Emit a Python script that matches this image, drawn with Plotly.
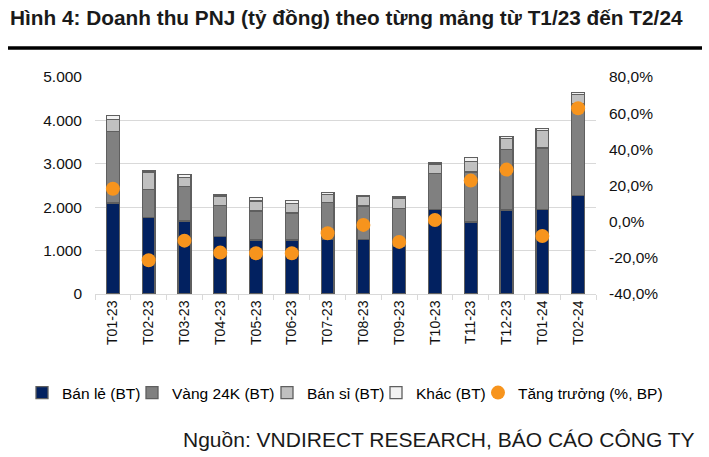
import plotly.graph_objects as go

categories = ["T01-23", "T02-23", "T03-23", "T04-23", "T05-23", "T06-23", "T07-23",
              "T08-23", "T09-23", "T10-23", "T11-23", "T12-23", "T01-24", "T02-24"]
ban_le = [2100, 1760, 1680, 1330, 1245, 1245, 1270, 1260, 1100, 1950, 1657, 1935, 1950, 2275]
vang_24k = [1650, 650, 800, 707, 667, 621, 836, 768, 875, 823, 1154, 1392, 1413, 2107]
ban_si = [275, 385, 210, 221, 231, 217, 191, 216, 223, 207, 240, 254, 408, 220]
khac = [90, 40, 60, 39, 78, 76, 39, 30, 37, 38, 93, 53, 40, 48]
tang_truong = [0.182, -0.213, -0.105, -0.171, -0.175, -0.175, -0.064, -0.018,
               -0.112, 0.009, 0.227, 0.288, -0.079, 0.627]

left_ticks = [0, 1000, 2000, 3000, 4000, 5000]
left_labels = ["0", "1.000", "2.000", "3.000", "4.000", "5.000"]
right_ticks = [-0.4, -0.2, 0.0, 0.2, 0.4, 0.6, 0.8]
right_labels = ["-40,0%", "-20,0%", "0,0%", "20,0%", "40,0%", "60,0%", "80,0%"]

title_text = "Hình 4: Doanh thu PNJ (tỷ đồng) theo từng mảng từ T1/23 đến T2/24"
source_text = "Nguồn: VNDIRECT RESEARCH, BÁO CÁO CÔNG TY"

FONT = "Liberation Sans, Arial, sans-serif"
OUTLINE = "#5f5f5f"

fig = go.Figure()
series = [
    ("Bán lẻ (BT)", ban_le, "#022160", "legend"),
    ("Vàng 24K (BT)", vang_24k, "#808080", "legend2"),
    ("Bán sỉ (BT)", ban_si, "#c0c0c0", "legend3"),
    ("Khác (BT)", khac, "#f2f2f2", "legend4"),
]
for name, vals, col, lg in series:
    fig.add_trace(go.Bar(
        x=categories, y=vals, name=name, width=0.36,
        marker=dict(color=col, line=dict(color=OUTLINE, width=1.3)),
        legend=lg,
    ))
fig.add_trace(go.Scatter(
    x=categories, y=tang_truong, name="Tăng trưởng (%, BP)", mode="markers",
    marker=dict(color="#F7941D", size=14), yaxis="y2", legend="legend5",
))

W, H = 709, 457
L, R, T, B = 95, 113, 77, 163
pw, ph = W - L - R, H - T - B

def px_x(p):
    return (p - L) / pw

def px_y(p):
    return (H - B - p) / ph

leg_font = dict(family=FONT, size=15.5, color="#000000")
text_starts = [62, 172, 307, 416, 518]
legend_common = dict(orientation="h", yanchor="middle", xanchor="left",
                     bgcolor="rgba(0,0,0,0)", font=leg_font, itemwidth=30,
                     itemclick=False, itemdoubleclick=False)
legs = {}
for i, ts in enumerate(text_starts):
    key = "legend" if i == 0 else f"legend{i+1}"
    legs[key] = dict(x=px_x(ts - 40), y=px_y(393), **legend_common)

fig.update_layout(
    width=W, height=H, autosize=False,
    margin=dict(l=L, r=R, t=T, b=B, pad=0, autoexpand=False),
    paper_bgcolor="white", plot_bgcolor="white",
    barmode="stack",
    font=dict(family=FONT, color="#000000"),
    showlegend=True,
    xaxis=dict(type="category", range=[-0.5, len(categories) - 0.5],
               tickangle=-90, tickfont=dict(size=14, color="#111111"),
               showline=True, linecolor="#d9d9d9", linewidth=1,
               ticks="outside", tickson="boundaries", ticklen=5, tickcolor="#d9d9d9",
               showgrid=False, fixedrange=True),
    yaxis=dict(range=[0, 5000], tickvals=left_ticks, ticktext=left_labels,
               tickfont=dict(size=15.5, color="#111111"), showgrid=True,
               gridcolor="#d9d9d9", gridwidth=1, zeroline=False, showline=False,
               ticks="", ticklabelstandoff=12, fixedrange=True),
    yaxis2=dict(range=[-0.4, 0.8], tickvals=right_ticks, ticktext=right_labels,
                overlaying="y", side="right", showgrid=False, zeroline=False,
                tickfont=dict(size=15.5, color="#111111"), ticks="",
                ticklabelstandoff=12, fixedrange=True),
    **legs,
)

fig.add_annotation(text=f"<b>{title_text}</b>", xref="paper", yref="paper",
                   x=px_x(8), y=px_y(18), xanchor="left", yanchor="middle",
                   showarrow=False,
                   font=dict(family=FONT, size=20.8, color="#1a1a1a"))
fig.add_shape(type="line", xref="paper", yref="paper",
              x0=px_x(8), x1=px_x(702), y0=px_y(48), y1=px_y(48),
              line=dict(color="#000000", width=3.5))
fig.add_annotation(text=source_text, xref="paper", yref="paper",
                   x=px_x(697), y=px_y(439), xanchor="right", yanchor="middle",
                   showarrow=False, font=dict(family=FONT, size=21, color="#1a1a1a"))

fig.write_html("out.html", config={"displayModeBar": False},
               post_script="document.body.style.margin='0';")
